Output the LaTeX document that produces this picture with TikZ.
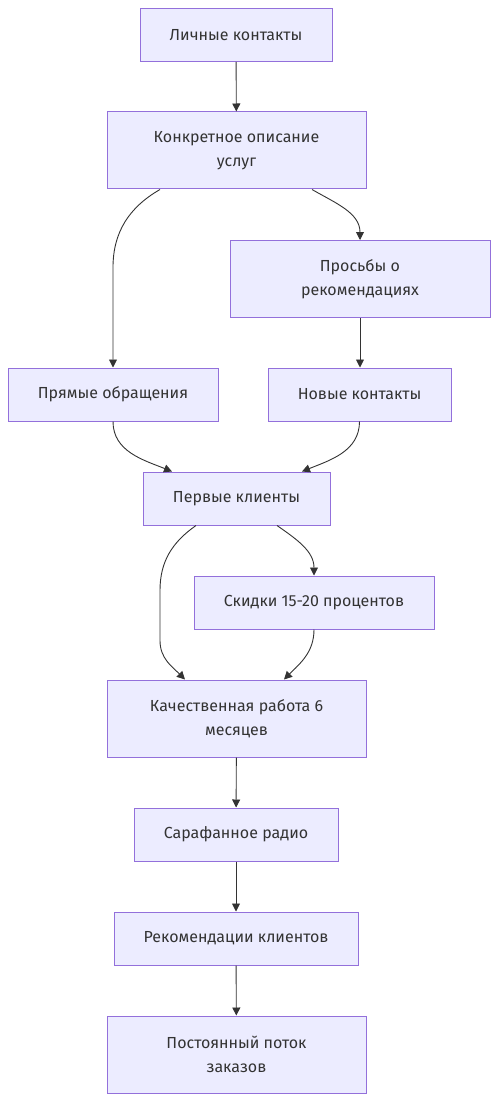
\documentclass[tikz,border=0pt]{standalone}
\usepackage{fontspec}
\setmainfont{Fira Sans}
\usetikzlibrary{arrows.meta,calc}
\definecolor{boxfill}{HTML}{ECECFF}
\definecolor{boxline}{HTML}{9370DB}
\definecolor{edgeline}{HTML}{333333}
\tikzset{
  box/.style={draw=boxline, fill=boxfill, line width=1pt, text=edgeline,
    align=center, inner sep=0pt, minimum height=53pt,
    font=\fontsize{16}{24}\selectfont},
  tallbox/.style={box, minimum height=77pt},
  edge/.style={draw=edgeline, line width=0.9pt,
    -{Triangle[length=8pt,width=8pt]}}
}
\begin{document}
\begin{tikzpicture}[x=1pt, y=1pt]
    \useasboundingbox (0,0) rectangle (498,-1102);
    \node[box, minimum width=192pt] (lichnye) at (236,-35) {Личные контакты};
    \node[tallbox, minimum width=259pt] (konkret) at (236.5,-150.5) {Конкретное описание\\услуг};
    \node[tallbox, minimum width=260pt] (prosby) at (360,-279) {Просьбы о\\рекомендациях};
    \node[box, minimum width=210pt] (pryamye) at (113,-394.5) {Прямые обращения};
    \node[box, minimum width=183pt] (novye) at (359.5,-394.5) {Новые контакты};
    \node[box, minimum width=187pt] (pervye) at (236.5,-498.5) {Первые клиенты};
    \node[box, minimum width=240pt] (skidki) at (314,-602.5) {Скидки 15-20 процентов};
    \node[tallbox, minimum width=259pt] (kachestvo) at (236.5,-718.5) {Качественная работа 6\\месяцев};
    \node[box, minimum width=204pt] (sarafan) at (236,-834.5) {Сарафанное радио};
    \node[box, minimum width=244pt] (rekom) at (236,-938.5) {Рекомендации клиентов};
    \node[tallbox, minimum width=259pt] (potok) at (236.5,-1054.5) {Постоянный поток\\заказов};

    \draw[edge] (lichnye) -- (konkret);
    \draw[edge] ([xshift=-76.5pt]konkret.south) to[out=-150,in=90]
      ($(pryamye.north)+(0,100)$) -- (pryamye.north);
    \draw[edge] ([xshift=75.5pt]konkret.south) to[out=-30,in=90] (prosby.north);
    \draw[edge] (prosby.south) -- (prosby.south |- novye.north);
    \draw[edge] (pryamye.south) to[out=-90,in=158] ([xshift=-64.5pt]pervye.north);
    \draw[edge] (novye.south) to[out=-90,in=22] ([xshift=65.5pt]pervye.north);
    % from first clients on down
    \draw[edge] ([xshift=-40.5pt]pervye.south) to[out=-145,in=90]
      ($(pervye.south)+(-76.5,-65)$) -- ($(pervye.south)+(-76.5,-115)$)
      to[out=-90,in=135] ([xshift=-51.5pt]kachestvo.north);
    \draw[edge] ([xshift=40.5pt]pervye.south) to[out=-35,in=90] (skidki.north);
    \draw[edge] (skidki.south) to[out=-90,in=45] ([xshift=47.5pt]kachestvo.north);
    \draw[edge] (kachestvo) -- (sarafan);
    \draw[edge] (sarafan) -- (rekom);
    \draw[edge] (rekom) -- (potok);
\end{tikzpicture}
\end{document}
